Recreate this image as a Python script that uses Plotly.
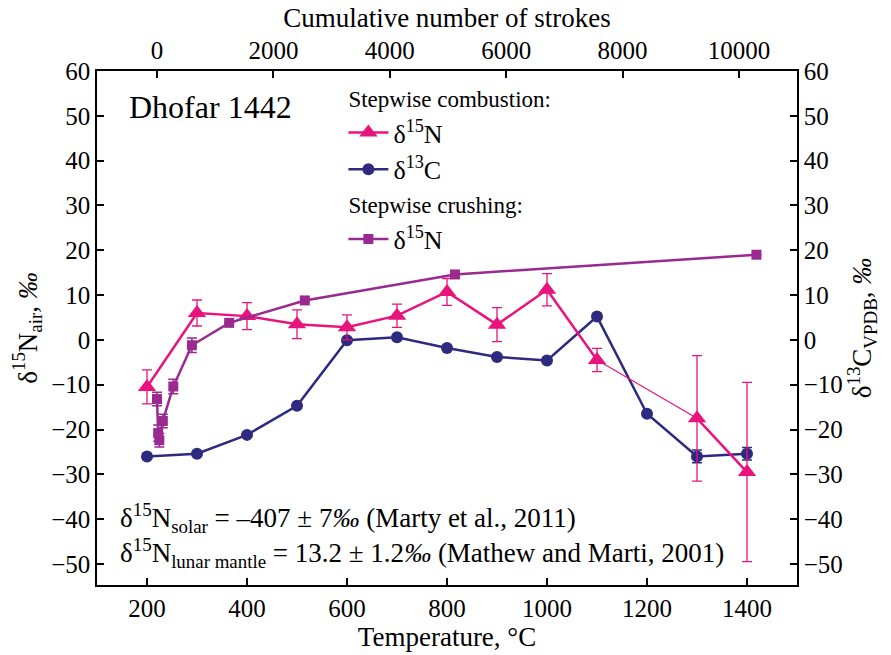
import plotly.graph_objects as go

# --- data ---
temp_N = [200, 300, 400, 500, 600, 700, 800, 900, 1000, 1100, 1200, 1300, 1400]
d15N_comb = [-10.5, 6.0, 5.3, 3.5, 2.8, 5.4, 10.7, 3.4, 11.2, -4.5, None, -17.5, -29.5]
d15N_comb_err = [3.8, 2.9, 3.0, 3.2, 2.8, 2.6, 3.0, 3.8, 3.6, 2.6, None, 14.0, 20.0]

temp_C = [200, 300, 400, 500, 600, 700, 800, 900, 1000, 1100, 1200, 1300, 1400]
d13C_comb = [-26.0, -25.4, -21.2, -14.7, -0.1, 0.6, -1.8, -3.8, -4.6, 5.2, -16.5, -26.0, -25.4]
d13C_comb_err = [0, 0, 0, 0, 0, 0, 0, 0, 0, 0, 0, 1.4, 1.4]

strokes = [0, 20, 40, 100, 280, 600, 1240, 2540, 5120, 10300]
d15N_crush = [-13.2, -20.8, -22.4, -18.1, -10.4, -1.2, 3.8, 8.8, 14.6, 19.0]
d15N_crush_err = [1.5, 1.8, 1.5, 1.5, 1.6, 1.6, 0, 0, 0, 0]

x_ticks = [200, 400, 600, 800, 1000, 1200, 1400]
stroke_ticks = [0, 2000, 4000, 6000, 8000, 10000]
y_ticks = list(range(-50, 61, 10))

PINK = "#E8147C"
NAVY = "#2D2A80"
PURPLE = "#9A2A8F"
FONT = "Liberation Serif"
TICK = 25
TITLE = 27

fig = go.Figure()

# crushing (top axis)
fig.add_trace(go.Scatter(
    x=strokes, y=d15N_crush, xaxis="x2", yaxis="y",
    mode="lines+markers", name="δ<sup>15</sup>N",
    legendgroup="crush", legendgrouptitle_text="Stepwise crushing:", legendrank=3,
    line=dict(color=PURPLE, width=2.5),
    marker=dict(symbol="square", size=10, color=PURPLE),
    error_y=dict(type="data", array=d15N_crush_err, color=PURPLE, thickness=1.5, width=5),
))

# combustion d13C
fig.add_trace(go.Scatter(
    x=temp_C, y=d13C_comb, mode="lines+markers", name="δ<sup>13</sup>C",
    legendgroup="comb", legendrank=2,
    line=dict(color=NAVY, width=2.5),
    marker=dict(symbol="circle", size=12, color=NAVY),
    error_y=dict(type="data", array=d13C_comb_err, color=NAVY, thickness=1.5, width=5),
))

# thin connector over the missing 1200 step
i0, i1 = 9, 11
fig.add_trace(go.Scatter(
    x=[temp_N[i0], temp_N[i1]], y=[d15N_comb[i0], d15N_comb[i1]],
    mode="lines", line=dict(color=PINK, width=1.2), showlegend=False, hoverinfo="skip",
))

# combustion d15N
fig.add_trace(go.Scatter(
    x=temp_N, y=d15N_comb, mode="lines+markers", name="δ<sup>15</sup>N",
    legendgroup="comb", legendgrouptitle_text="Stepwise combustion:", legendrank=1,
    connectgaps=False,
    line=dict(color=PINK, width=2.5),
    marker=dict(symbol="triangle-up", size=16, color=PINK),
    error_y=dict(type="data", array=d15N_comb_err, color=PINK, thickness=1.3, width=5),
))

axis_common = dict(
    showline=True, linecolor="black", linewidth=1.5, ticks="inside", ticklen=7,
    tickwidth=1.5, tickcolor="black", showgrid=False, zeroline=False,
    tickfont=dict(family=FONT, size=TICK, color="black"), tickformat="d",
)

fig.update_layout(
    width=891, height=655,
    margin=dict(l=97, r=94, t=71, b=67),
    paper_bgcolor="white", plot_bgcolor="white",
    font=dict(family=FONT, color="black"),
    xaxis=dict(range=[100, 1500], tickvals=x_ticks,
               title=dict(text="Temperature, °C", font=dict(family=FONT, size=TITLE), standoff=2),
               **axis_common),
    xaxis2=dict(range=[-1031, 10997], overlaying="x", side="top", anchor="y",
                tickvals=stroke_ticks,
                title=dict(text="Cumulative number of strokes", font=dict(family=FONT, size=TITLE), standoff=2),
                **axis_common),
    yaxis=dict(range=[-54.7, 60], tickvals=y_ticks,
               title=dict(text="δ<sup>15</sup>N<sub>air</sub>, <i>‰</i>", font=dict(family=FONT, size=TITLE), standoff=6),
               **axis_common),
    yaxis2=dict(range=[-54.7, 60], overlaying="y", side="right", anchor="x",
                tickvals=y_ticks,
                title=dict(text="δ<sup>13</sup>C<sub>VPDB</sub>, <i>‰</i>", font=dict(family=FONT, size=TITLE), standoff=10),
                **axis_common),
    legend=dict(x=0.352, y=0.99, xanchor="left", yanchor="top",
                bgcolor="rgba(0,0,0,0)", traceorder="grouped", tracegroupgap=0,
                font=dict(family=FONT, size=26, color="black"),
                grouptitlefont=dict(family=FONT, size=23, color="black"),
                itemwidth=40),
    showlegend=True,
)
# dummy trace to activate yaxis2
fig.add_trace(go.Scatter(x=[None], y=[None], yaxis="y2", showlegend=False, hoverinfo="skip"))

fig.add_annotation(text="Dhofar 1442", xref="paper", yref="paper", x=0.043, y=0.93,
                   xanchor="left", yanchor="middle", showarrow=False,
                   font=dict(family=FONT, size=32, color="black"))
fig.add_annotation(text="δ<sup>15</sup>N<sub>solar</sub> = –407 ± 7<i>‰</i> (Marty et al., 2011)",
                   xref="paper", yref="paper", x=0.03, y=0.13, xanchor="left", yanchor="middle",
                   showarrow=False, font=dict(family=FONT, size=27, color="black"))
fig.add_annotation(text="δ<sup>15</sup>N<sub>lunar mantle</sub> = 13.2 ± 1.2<i>‰</i> (Mathew and Marti, 2001)",
                   xref="paper", yref="paper", x=0.03, y=0.063, xanchor="left", yanchor="middle",
                   showarrow=False, font=dict(family=FONT, size=27, color="black"))

fig.write_html("out.html")
